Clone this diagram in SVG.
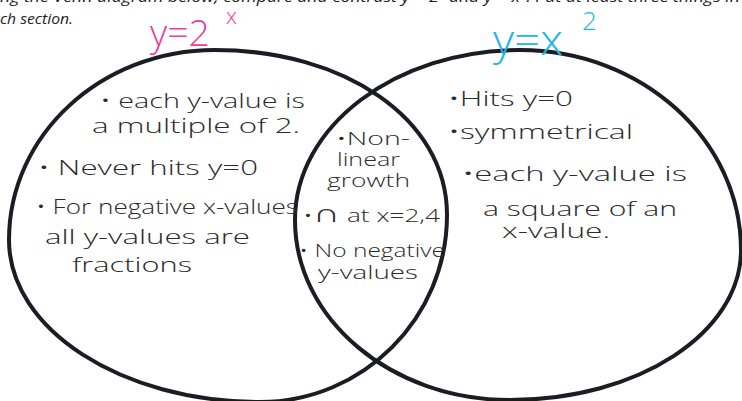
<svg xmlns="http://www.w3.org/2000/svg" width="742" height="401" viewBox="0 0 742 401">
<style>
.hw{font-family:"Open Sans","Liberation Sans",sans-serif;font-weight:300;font-size:21px;fill:#2b2b2b}
.mid{font-size:18px}
.ins{font-family:"Open Sans","Liberation Sans",sans-serif;font-style:italic;font-size:14px;fill:#222}
.ring{fill:none;stroke:#1c1c24;stroke-width:4;stroke-linejoin:round}
.pink{font-family:"Open Sans","Liberation Sans",sans-serif;font-weight:300;fill:#ef3c9c}
.cyan{font-family:"Open Sans","Liberation Sans",sans-serif;font-weight:300;fill:#20b6e2}
</style>
<rect width="742" height="401" fill="#ffffff"/>
<g id="instructions">
<text class="ins" x="0" y="2" textLength="740" lengthAdjust="spacingAndGlyphs">ng the Venn diagram below, compare and contrast y = 2<tspan font-size="9" dy="-5">x</tspan><tspan dy="5"> and y = x</tspan><tspan font-size="9" dy="-5">2</tspan><tspan dy="5">. Put at least three things in</tspan></text>
<text class="ins" x="0" y="24" textLength="73" lengthAdjust="spacingAndGlyphs">ch section.</text>
</g>
<g id="connectors">
<path id="circle-left" class="ring" d="M9,240 C9,135 101,50 215,50 C343,50 447,118 447,215 C447,318 363,402 260,402 C121,402 9,329 9,240 Z"/>
<path id="circle-right" class="ring" d="M295,220 C295,126 396,50 520,50 C642,50 741,140 741,250 C741,333 638,400 510,400 C391,400 295,319 295,220 Z"/>
</g>
<g id="label-left">
<text class="pink" x="150" y="46" font-size="36" textLength="60" lengthAdjust="spacingAndGlyphs">y=2</text>
<text class="pink" x="226" y="24" font-size="22">x</text>
</g>
<g id="label-right">
<text class="cyan" x="493" y="55" font-size="42" textLength="70" lengthAdjust="spacingAndGlyphs">y=x</text>
<text class="cyan" x="582" y="30" font-size="26">2</text>
</g>
<g id="node-left">
<text class="hw" x="100" y="108" textLength="205" lengthAdjust="spacingAndGlyphs">• each y-value is</text>
<text class="hw" x="92" y="133" textLength="208" lengthAdjust="spacingAndGlyphs">a multiple of 2.</text>
<text class="hw" x="38" y="175" textLength="220" lengthAdjust="spacingAndGlyphs">• Never hits y=0</text>
<text class="hw" x="36" y="214" textLength="262" lengthAdjust="spacingAndGlyphs">• For negative x-values</text>
<text class="hw" x="45" y="244" textLength="205" lengthAdjust="spacingAndGlyphs">all y-values are</text>
<text class="hw" x="72" y="272" textLength="120" lengthAdjust="spacingAndGlyphs">fractions</text>
</g>
<g id="node-middle">
<text class="hw mid" x="336" y="145" textLength="74" lengthAdjust="spacingAndGlyphs">•Non-</text>
<text class="hw mid" x="337" y="166" textLength="63" lengthAdjust="spacingAndGlyphs">linear</text>
<text class="hw mid" x="327" y="187" textLength="83" lengthAdjust="spacingAndGlyphs">growth</text>
<text class="hw mid" x="303" y="222" textLength="137" lengthAdjust="spacingAndGlyphs">•<tspan font-size="26">∩</tspan> at x=2,4</text>
<text class="hw mid" x="299" y="257" textLength="146" lengthAdjust="spacingAndGlyphs">• No negative</text>
<text class="hw mid" x="318" y="279" textLength="100" lengthAdjust="spacingAndGlyphs">y-values</text>
</g>
<g id="node-right">
<text class="hw" x="448" y="106" textLength="125" lengthAdjust="spacingAndGlyphs">•Hits y=0</text>
<text class="hw" x="448" y="139" textLength="185" lengthAdjust="spacingAndGlyphs">•symmetrical</text>
<text class="hw" x="462" y="181" textLength="225" lengthAdjust="spacingAndGlyphs">•each y-value is</text>
<text class="hw" x="483" y="216" textLength="194" lengthAdjust="spacingAndGlyphs">a square of an</text>
<text class="hw" x="502" y="238" textLength="108" lengthAdjust="spacingAndGlyphs">x-value.</text>
</g>
</svg>
